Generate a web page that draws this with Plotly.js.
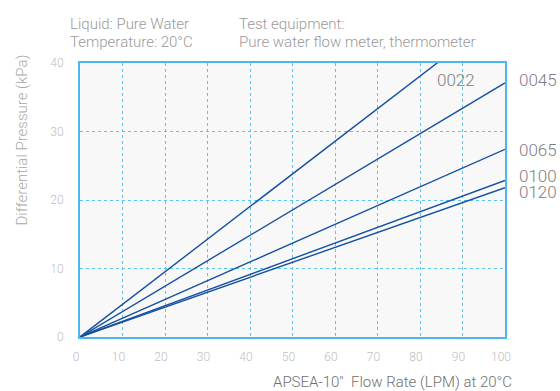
<!DOCTYPE html>
<html>
<head>
<meta charset="utf-8">
<script src="https://cdn.plot.ly/plotly-3.0.1.min.js"></script>
<style>html,body{margin:0;padding:0;background:#fff;}#chart{width:560px;height:391px;}</style>
</head>
<body>
<div id="chart"></div>
<script>
// Data
const models = ["0022", "0045", "0065", "0100", "0120"];
const flowRate = [0, 100];
const dp0022 = [0, 47.6];
const dp0045 = [0, 37.1];
const dp0065 = [0, 27.4];
const dp0100 = [0, 22.85];
const dp0120 = [0, 21.8];
const xTicks = [0, 10, 20, 30, 40, 50, 60, 70, 80, 90, 100];
const yTicks = [0, 10, 20, 30, 40];

const seriesY = [dp0022, dp0045, dp0065, dp0100, dp0120];
const lineColor = "#1450a0";
const traces = models.map((m, i) => ({
  x: flowRate, y: seriesY[i], mode: "lines", name: m,
  line: {color: lineColor, width: 1.4}, hoverinfo: "skip"
}));

const fontFam = "Roboto, 'Open Sans', sans-serif";
const labelFont = {family: fontFam, size: 17, color: "#808080", weight: 300};
const ann = [];
ann.push({xref: "x", yref: "y", x: 88.5, y: 37.5, text: models[0], showarrow: false, font: labelFont, xanchor: "center", yanchor: "middle"});
ann.push({xref: "paper", yref: "y", x: 1.028, y: 37.5, text: models[1], showarrow: false, font: labelFont, xanchor: "left", yanchor: "middle"});
ann.push({xref: "paper", yref: "y", x: 1.028, y: 27.25, text: models[2], showarrow: false, font: labelFont, xanchor: "left", yanchor: "middle"});
ann.push({xref: "paper", yref: "y", x: 1.028, y: 23.44, text: models[3], showarrow: false, font: labelFont, xanchor: "left", yanchor: "middle"});
ann.push({xref: "paper", yref: "y", x: 1.028, y: 21.1, text: models[4], showarrow: false, font: labelFont, xanchor: "left", yanchor: "middle"});

const topFont = {family: fontFam, size: 15, color: "#9a9a9a", weight: 300};
ann.push({xref: "paper", yref: "paper", x: -0.028, y: 1.144, xanchor: "left", yanchor: "middle", showarrow: false, align: "left", font: topFont, text: "Liquid: Pure Water"});
ann.push({xref: "paper", yref: "paper", x: -0.028, y: 1.077, xanchor: "left", yanchor: "middle", showarrow: false, align: "left", font: topFont, text: "Temperature: 20°C"});
ann.push({xref: "paper", yref: "paper", x: 0.37, y: 1.144, xanchor: "left", yanchor: "middle", showarrow: false, align: "left", font: topFont, text: "Test equipment:"});
ann.push({xref: "paper", yref: "paper", x: 0.37, y: 1.077, xanchor: "left", yanchor: "middle", showarrow: false, align: "left", font: topFont, text: "Pure water flow meter, thermometer"});
ann.push({xref: "paper", yref: "paper", x: -0.137, y: 0.72, xanchor: "center", yanchor: "middle", showarrow: false, textangle: -90,
  font: {family: fontFam, size: 15, color: "#a8a8a8", weight: 300}, text: "Differential Pressure (kPa)"});
ann.push({xref: "paper", yref: "paper", x: 1.02, y: -0.165, xanchor: "right", yanchor: "middle", showarrow: false,
  font: {family: fontFam, size: 15, color: "#707070", weight: 300}, text: "APSEA-10\"&nbsp;&nbsp;Flow Rate (LPM) at 20°C"});

const gridColor = "#5cc3ee";
const tickFont = {family: fontFam, size: 12, color: "#c0c0c0", weight: 300};
const layout = {
  width: 560, height: 391,
  margin: {l: 80, r: 55, t: 63, b: 54},
  paper_bgcolor: "#ffffff", plot_bgcolor: "#f8f8f8",
  showlegend: false,
  xaxis: {range: [0, 100], tickvals: xTicks, ticktext: xTicks.map(String), showgrid: true, gridcolor: gridColor, griddash: "3px,3px", gridwidth: 1,
    zeroline: false, showline: true, linecolor: "#4bb8e6", linewidth: 2, mirror: true, ticks: "", ticklen: 0,
    ticklabelstandoff: 8, ticklabelshift: -4, tickfont: tickFont, fixedrange: true},
  yaxis: {range: [0, 40], tickvals: yTicks, ticktext: yTicks.map(String), showgrid: true, gridcolor: gridColor, griddash: "3px,3px", gridwidth: 1,
    zeroline: false, showline: true, linecolor: "#4bb8e6", linewidth: 2, mirror: true, ticks: "", ticklen: 0, ticklabelstandoff: 12,
    tickfont: tickFont, fixedrange: true},
  annotations: ann
};
Plotly.newPlot("chart", traces, layout, {staticPlot: true, displayModeBar: false});
</script>
</body>
</html>
